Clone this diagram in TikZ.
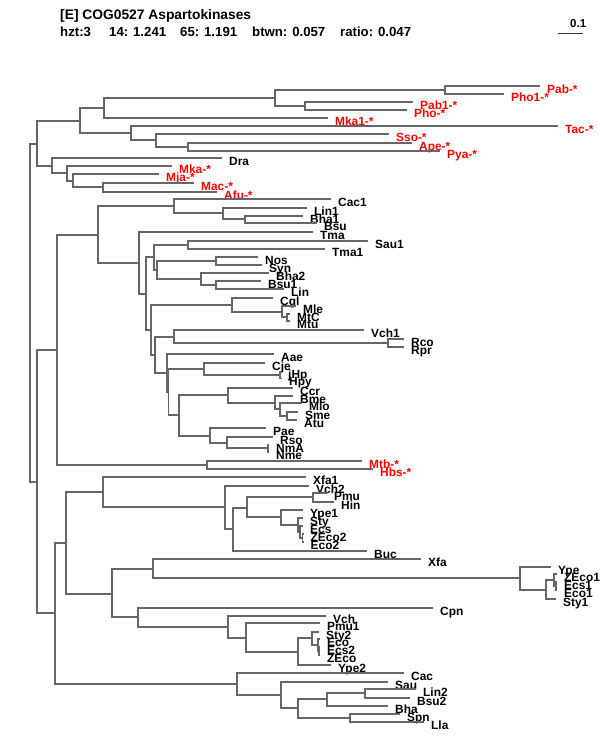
\documentclass[tikz,border=0pt]{standalone}
\usepackage{fontspec}
\setmainfont{Liberation Sans}
\begin{document}
\begin{tikzpicture}[x=1pt,y=-1pt,
  br/.style={draw=black!60, line width=1.4pt},
  head/.style={anchor=base west, inner sep=0pt, font=\bfseries\fontsize{13.2}{16}\selectfont},
  tip/.style={anchor=base west, inner sep=0pt, xshift=7pt, yshift=-7pt, font=\bfseries\fontsize{11.9}{13}\selectfont},
  arch/.style={tip, text=red}]
\useasboundingbox (0,0) rectangle (600,750);

\node[head, font=\bfseries\fontsize{13.8}{16}\selectfont] (title) at (60,19) {[E] COG0527 Aspartokinases};
\node[head] (hzt) at (60,36) {hzt:3};
\node[head] (c14) at (109,36) {14: 1.241};
\node[head] (c65) at (180,36) {65: 1.191};
\node[head] (btwn) at (252,36) {btwn: 0.057};
\node[head] (ratio) at (340,36) {ratio: 0.047};
\coordinate (s0) at (558,33);
\coordinate (s1) at (583,33);
\draw[black!80, line width=1pt] (s0) -- (s1);
\node[anchor=base west, inner sep=0pt, font=\bfseries\fontsize{11.5}{13}\selectfont] (sl) at (570,27) {0.1};

\coordinate (n0) at (30,313);
\coordinate (n1) at (37,144);
\coordinate (n2) at (80,121);
\coordinate (n3) at (104,108);
\coordinate (n4) at (275,98);
\coordinate (n5) at (445,90);
\coordinate (n6) at (305,106);
\coordinate (n7) at (131,133);
\coordinate (n8) at (156,140);
\coordinate (n9) at (188,147);
\coordinate (n10) at (52,166);
\coordinate (n11) at (67,173);
\coordinate (n12) at (73,181);
\coordinate (n13) at (103,187);

\coordinate (Pab) at (540,86);   \node[arch] (tPab) at (Pab) {Pab-*};
\coordinate (Pho1) at (504,94);  \node[arch] (tPho1) at (Pho1) {Pho1-*};
\coordinate (Pab1) at (413,102); \node[arch] (tPab1) at (Pab1) {Pab1-*};
\coordinate (Pho) at (407,110);  \node[arch] (tPho) at (Pho) {Pho-*};
\coordinate (Mka1) at (328,118); \node[arch] (tMka1) at (Mka1) {Mka1-*};
\coordinate (Tac) at (558,126);  \node[arch] (tTac) at (Tac) {Tac-*};
\coordinate (Sso) at (389,134);  \node[arch] (tSso) at (Sso) {Sso-*};
\coordinate (Ape) at (412,143);  \node[arch] (tApe) at (Ape) {Ape-*};
\coordinate (Pya) at (440,151);  \node[arch] (tPya) at (Pya) {Pya-*};
\coordinate (Dra) at (222,158);  \node[tip] (tDra) at (Dra) {Dra};
\coordinate (Mka) at (172,166);  \node[arch] (tMka) at (Mka) {Mka-*};
\coordinate (Mja) at (159,174);  \node[arch] (tMja) at (Mja) {Mja-*};
\coordinate (Mac) at (194,183);  \node[arch] (tMac) at (Mac) {Mac-*};
\coordinate (Afu) at (217,192);  \node[arch] (tAfu) at (Afu) {Afu-*};

\draw[br] (n1) |- (n2) (n1) |- (n10);
\draw[br] (n2) |- (n3) (n2) |- (n7);
\draw[br] (n3) |- (n4) (n3) |- (Mka1);
\draw[br] (n4) |- (n5) (n4) |- (n6);
\draw[br] (n5) |- (Pab) (n5) |- (Pho1);
\draw[br] (n6) |- (Pab1) (n6) |- (Pho);
\draw[br] (n7) |- (Tac) (n7) |- (n8);
\draw[br] (n8) |- (Sso) (n8) |- (n9);
\draw[br] (n9) |- (Ape) (n9) |- (Pya);
\draw[br] (n10) |- (Dra) (n10) |- (n11);
\draw[br] (n11) |- (Mka) (n11) |- (n12);
\draw[br] (n12) |- (Mja) (n12) |- (n13);
\draw[br] (n13) |- (Mac) (n13) |- (Afu);

\coordinate (n14) at (37,482);
\coordinate (n15) at (57,350);
\coordinate (n16) at (98,235);
\coordinate (n17) at (174,206);
\coordinate (n18) at (223,213);
\coordinate (n19) at (245,219);
\coordinate (n20) at (139,263);
\coordinate (n21) at (146,294);
\coordinate (n22) at (154,257);
\coordinate (n23) at (188,245);
\coordinate (n24) at (157,270);
\coordinate (n25) at (216,261);
\coordinate (n26) at (201,279);
\coordinate (n27) at (216,285);
\coordinate (n28) at (151,330);
\coordinate (n29) at (232,305);
\coordinate (n30) at (282,312);
\coordinate (n31) at (287,317);
\coordinate (n32) at (155,355);
\coordinate (n33) at (174,337);
\coordinate (n34) at (388,343);
\coordinate (n35) at (167,373);
\coordinate (n36) at (168.5,392);
\coordinate (n37) at (204,369);
\coordinate (n38) at (280,375);
\coordinate (n39) at (179,415);
\coordinate (n40) at (228,395);
\coordinate (n41) at (275,403);
\coordinate (n42) at (280,409);
\coordinate (n43) at (287,416);
\coordinate (n44) at (210,436);
\coordinate (n45) at (227,443);
\coordinate (n46) at (268,448);
\coordinate (n47) at (207,465);

\coordinate (Cac1) at (331,199); \node[tip] (tCac1) at (Cac1) {Cac1};
\coordinate (Lin1) at (307,208); \node[tip] (tLin1) at (Lin1) {Lin1};
\coordinate (Bha1) at (303,216); \node[tip] (tBha1) at (Bha1) {Bha1};
\coordinate (Bsu) at (317,223);  \node[tip] (tBsu) at (Bsu) {Bsu};
\coordinate (Tma) at (313,232);  \node[tip] (tTma) at (Tma) {Tma};
\coordinate (Sau1) at (368,241); \node[tip] (tSau1) at (Sau1) {Sau1};
\coordinate (Tma1) at (325,249); \node[tip] (tTma1) at (Tma1) {Tma1};
\coordinate (Nos) at (258,257);  \node[tip] (tNos) at (Nos) {Nos};
\coordinate (Syn) at (262,265);  \node[tip] (tSyn) at (Syn) {Syn};
\coordinate (Bha2) at (269,273); \node[tip] (tBha2) at (Bha2) {Bha2};
\coordinate (Bsu1) at (261,281); \node[tip] (tBsu1) at (Bsu1) {Bsu1};
\coordinate (Lin) at (284,289);  \node[tip] (tLin) at (Lin) {Lin};
\coordinate (Cgl) at (273,298);  \node[tip] (tCgl) at (Cgl) {Cgl};
\coordinate (Mle) at (296,306);  \node[tip] (tMle) at (Mle) {Mle};
\coordinate (MtC) at (290,314);  \node[tip] (tMtC) at (MtC) {MtC};
\coordinate (Mtu) at (290,321);  \node[tip] (tMtu) at (Mtu) {Mtu};
\coordinate (Vch1) at (364,330); \node[tip] (tVch1) at (Vch1) {Vch1};
\coordinate (Rco) at (404,339);  \node[tip] (tRco) at (Rco) {Rco};
\coordinate (Rpr) at (404,347);  \node[tip] (tRpr) at (Rpr) {Rpr};
\coordinate (Aae) at (274,354);  \node[tip] (tAae) at (Aae) {Aae};
\coordinate (Cje) at (265,363);  \node[tip] (tCje) at (Cje) {Cje};
\coordinate (jHp) at (281,371.5); \node[tip] (tjHp) at (jHp) {jHp};
\coordinate (Hpy) at (282,378.5); \node[tip] (tHpy) at (Hpy) {Hpy};
\coordinate (Ccr) at (293,388);  \node[tip] (tCcr) at (Ccr) {Ccr};
\coordinate (Bme) at (293,396);  \node[tip] (tBme) at (Bme) {Bme};
\coordinate (Mlo) at (302,403);  \node[tip] (tMlo) at (Mlo) {Mlo};
\coordinate (Sme) at (298,412);  \node[tip] (tSme) at (Sme) {Sme};
\coordinate (Atu) at (297,420);  \node[tip] (tAtu) at (Atu) {Atu};
\coordinate (Pae) at (266,428);  \node[tip] (tPae) at (Pae) {Pae};
\coordinate (Rso) at (273,437);  \node[tip] (tRso) at (Rso) {Rso};
\coordinate (NmA) at (269,445);  \node[tip] (tNmA) at (NmA) {NmA};
\coordinate (Nme) at (269,452);  \node[tip] (tNme) at (Nme) {Nme};
\coordinate (Mtb) at (362,461);  \node[arch] (tMtb) at (Mtb) {Mtb-*};
\coordinate (Hbs) at (373,469);  \node[arch] (tHbs) at (Hbs) {Hbs-*};

\draw[br] (n0) |- (n1) (n0) |- (n14);
\draw[br] (n15) |- (n16) (n15) |- (n47);
\draw[br] (n16) |- (n17) (n16) |- (n20);
\draw[br] (n17) |- (Cac1) (n17) |- (n18);
\draw[br] (n18) |- (Lin1) (n18) |- (n19);
\draw[br] (n19) |- (Bha1) (n19) |- (Bsu);
\draw[br] (n20) |- (Tma) (n20) |- (n21);
\draw[br] (n21) |- (n22) (n21) |- (n28);
\draw[br] (n22) |- (n23) (n22) |- (n24);
\draw[br] (n23) |- (Sau1) (n23) |- (Tma1);
\draw[br] (n24) |- (n25) (n24) |- (n26);
\draw[br] (n25) |- (Nos) (n25) |- (Syn);
\draw[br] (n26) |- (Bha2) (n26) |- (n27);
\draw[br] (n27) |- (Bsu1) (n27) |- (Lin);
\draw[br] (n28) |- (n29) (n28) |- (n32);
\draw[br] (n29) |- (Cgl) (n29) |- (n30);
\draw[br] (n30) |- (Mle) (n30) |- (n31);
\draw[br] (n31) |- (MtC) (n31) |- (Mtu);
\draw[br] (n32) |- (n33) (n32) |- (n35);
\draw[br] (n33) |- (Vch1) (n33) |- (n34);
\draw[br] (n34) |- (Rco) (n34) |- (Rpr);
\draw[br] (n35) |- (Aae) (n35) |- (n36);
\draw[br] (n36) |- (n37) (n36) |- (n39);
\draw[br] (n37) |- (Cje) (n37) |- (n38);
\draw[br] (n38) |- (jHp) (n38) |- (Hpy);
\draw[br] (n39) |- (n40) (n39) |- (n44);
\draw[br] (n40) |- (Ccr) (n40) |- (n41);
\draw[br] (n41) |- (Bme) (n41) |- (n42);
\draw[br] (n42) |- (Mlo) (n42) |- (n43);
\draw[br] (n43) |- (Sme) (n43) |- (Atu);
\draw[br] (n44) |- (Pae) (n44) |- (n45);
\draw[br] (n45) |- (Rso) (n45) |- (n46);
\draw[br] (n46) |- (NmA) (n46) |- (Nme);
\draw[br] (n47) |- (Mtb) (n47) |- (Hbs);

\coordinate (n48) at (55,613);
\coordinate (n49) at (66,543);
\coordinate (n50) at (103,492);
\coordinate (n51) at (225,507);
\coordinate (n52) at (233,529);
\coordinate (n53) at (247,508);
\coordinate (n54) at (313,497);
\coordinate (n55) at (281,517);
\coordinate (n56) at (298,525);
\coordinate (n57) at (300,532);
\coordinate (n58) at (302.5,538);
\coordinate (n59) at (112,594);
\coordinate (n60) at (153,569);
\coordinate (n61) at (520,578);
\coordinate (n62) at (546,590);
\coordinate (n63) at (554,580);
\coordinate (n64) at (556,586);
\coordinate (n65) at (138,617);
\coordinate (n66) at (228,627);
\coordinate (n67) at (246,638);
\coordinate (n68) at (298,652);
\coordinate (n69) at (312,638);
\coordinate (n70) at (318,645);
\coordinate (n71) at (319,651);
\coordinate (n72) at (237,684);
\coordinate (n73) at (281,695);
\coordinate (n74) at (298,708);
\coordinate (n75) at (327,699);
\coordinate (n76) at (365,693);
\coordinate (n77) at (350,718);

\coordinate (Xfa1) at (306,477);  \node[tip] (tXfa1) at (Xfa1) {Xfa1};
\coordinate (Vch2) at (309,486);  \node[tip] (tVch2) at (Vch2) {Vch2};
\coordinate (Pmu) at (327,493);   \node[tip] (tPmu) at (Pmu) {Pmu};
\coordinate (Hin) at (334,502);   \node[tip] (tHin) at (Hin) {Hin};
\coordinate (Ype1) at (303,510);  \node[tip] (tYpe1) at (Ype1) {Ype1};
\coordinate (Sty) at (303,518);   \node[tip] (tSty) at (Sty) {Sty};
\coordinate (Ecs) at (303,526);   \node[tip] (tEcs) at (Ecs) {Ecs};
\coordinate (ZEco2) at (303.5,534); \node[tip] (tZEco2) at (ZEco2) {ZEco2};
\coordinate (Eco2) at (303.5,542); \node[tip] (tEco2) at (Eco2) {Eco2};
\coordinate (Buc) at (367,551);   \node[tip] (tBuc) at (Buc) {Buc};
\coordinate (Xfa) at (421,559);   \node[tip] (tXfa) at (Xfa) {Xfa};
\coordinate (Ype) at (551,567);   \node[tip] (tYpe) at (Ype) {Ype};
\coordinate (ZEco1) at (557,574); \node[tip] (tZEco1) at (ZEco1) {ZEco1};
\coordinate (Ecs1) at (557,582);  \node[tip] (tEcs1) at (Ecs1) {Ecs1};
\coordinate (Eco1) at (557,590);  \node[tip] (tEco1) at (Eco1) {Eco1};
\coordinate (Sty1) at (556,599);  \node[tip] (tSty1) at (Sty1) {Sty1};
\coordinate (Cpn) at (433,608);   \node[tip] (tCpn) at (Cpn) {Cpn};
\coordinate (Vch) at (326,616);   \node[tip] (tVch) at (Vch) {Vch};
\coordinate (Pmu1) at (320,623);  \node[tip] (tPmu1) at (Pmu1) {Pmu1};
\coordinate (Sty2) at (319,632);  \node[tip] (tSty2) at (Sty2) {Sty2};
\coordinate (Eco) at (320,639);   \node[tip] (tEco) at (Eco) {Eco};
\coordinate (Ecs2) at (320,647);  \node[tip] (tEcs2) at (Ecs2) {Ecs2};
\coordinate (ZEco) at (320,655);  \node[tip] (tZEco) at (ZEco) {ZEco};
\coordinate (Ype2) at (331,665);  \node[tip] (tYpe2) at (Ype2) {Ype2};
\coordinate (Cac) at (404,673);   \node[tip] (tCac) at (Cac) {Cac};
\coordinate (Sau) at (388,682);   \node[tip] (tSau) at (Sau) {Sau};
\coordinate (Lin2) at (416,689);  \node[tip] (tLin2) at (Lin2) {Lin2};
\coordinate (Bsu2) at (410,698);  \node[tip] (tBsu2) at (Bsu2) {Bsu2};
\coordinate (Bha) at (388,706);   \node[tip] (tBha) at (Bha) {Bha};
\coordinate (Spn) at (400,714);   \node[tip] (tSpn) at (Spn) {Spn};
\coordinate (Lla) at (424,722);   \node[tip] (tLla) at (Lla) {Lla};

\draw[br] (n14) |- (n15) (n14) |- (n48);
\draw[br] (n48) |- (n49) (n48) |- (n72);
\draw[br] (n49) |- (n50) (n49) |- (n59);
\draw[br] (n50) |- (Xfa1) (n50) |- (n51);
\draw[br] (n51) |- (Vch2) (n51) |- (n52);
\draw[br] (n52) |- (n53) (n52) |- (Buc);
\draw[br] (n53) |- (n54) (n53) |- (n55);
\draw[br] (n54) |- (Pmu) (n54) |- (Hin);
\draw[br] (n55) |- (Ype1) (n55) |- (n56);
\draw[br] (n56) |- (Sty) (n56) |- (n57);
\draw[br] (n57) |- (Ecs) (n57) |- (n58);
\draw[br] (n58) |- (ZEco2) (n58) |- (Eco2);
\draw[br] (n59) |- (n60) (n59) |- (n65);
\draw[br] (n60) |- (Xfa) (n60) |- (n61);
\draw[br] (n61) |- (Ype) (n61) |- (n62);
\draw[br] (n62) |- (n63) (n62) |- (Sty1);
\draw[br] (n63) |- (ZEco1) (n63) |- (n64);
\draw[br] (n64) |- (Ecs1) (n64) |- (Eco1);
\draw[br] (n65) |- (Cpn) (n65) |- (n66);
\draw[br] (n66) |- (Vch) (n66) |- (n67);
\draw[br] (n67) |- (Pmu1) (n67) |- (n68);
\draw[br] (n68) |- (n69) (n68) |- (Ype2);
\draw[br] (n69) |- (Sty2) (n69) |- (n70);
\draw[br] (n70) |- (Eco) (n70) |- (n71);
\draw[br] (n71) |- (Ecs2) (n71) |- (ZEco);
\draw[br] (n72) |- (Cac) (n72) |- (n73);
\draw[br] (n73) |- (Sau) (n73) |- (n74);
\draw[br] (n74) |- (n75) (n74) |- (n77);
\draw[br] (n75) |- (n76) (n75) |- (Bha);
\draw[br] (n76) |- (Lin2) (n76) |- (Bsu2);
\draw[br] (n77) |- (Spn) (n77) |- (Lla);
\end{tikzpicture}
\end{document}
